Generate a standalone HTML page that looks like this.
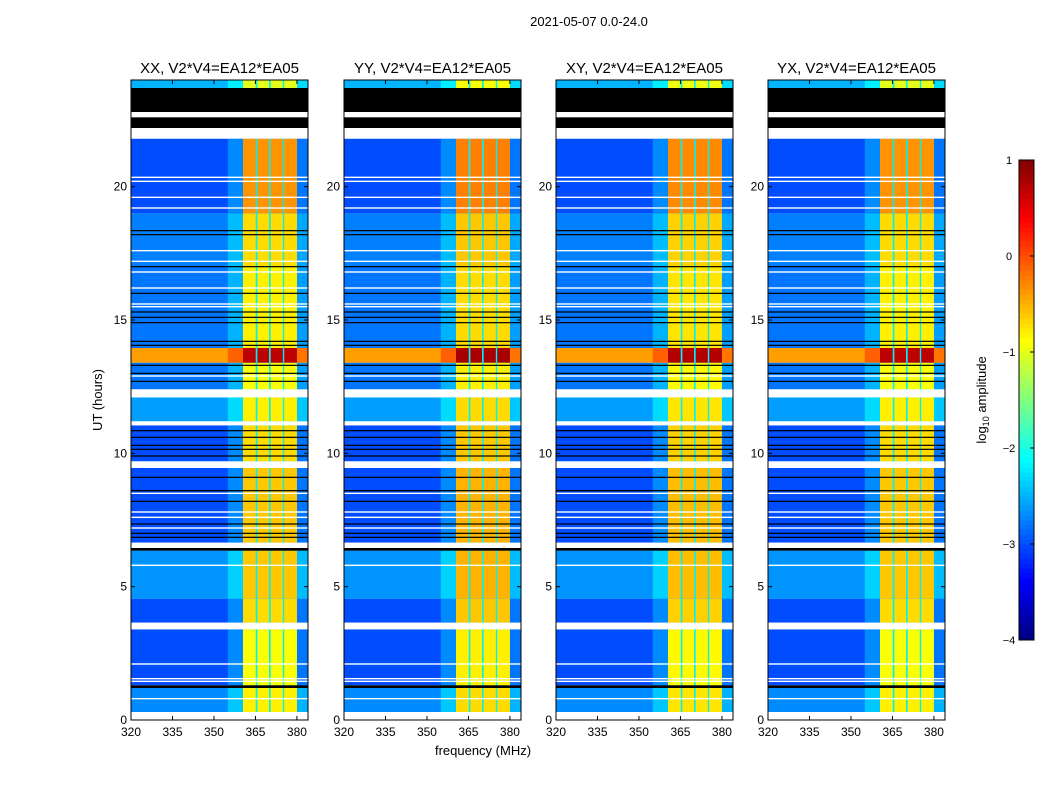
<!DOCTYPE html>
<html><head><meta charset="utf-8">
<style>
body{margin:0;background:#fff;}
svg text{font-family:"Liberation Sans",sans-serif;}
</style></head>
<body>
<svg id="fig" width="1050" height="800" xmlns="http://www.w3.org/2000/svg">
<text x="589" y="26" font-size="13" text-anchor="middle">2021-05-07 0.0-24.0</text>
<text transform="translate(102,400) rotate(-90)" font-size="13" text-anchor="middle">UT (hours)</text>
<text x="483" y="755" font-size="13" text-anchor="middle">frequency (MHz)</text>
<g id="panels"></g>
<g id="cbar"></g>
</svg>
<script>
const panelTitles=["XX, V2*V4=EA12*EA05","YY, V2*V4=EA12*EA05","XY, V2*V4=EA12*EA05","YX, V2*V4=EA12*EA05"];
const panelLeft=[131,344,556,768];
const panelBandOffset=[0,0.1,0.05,0.0];
const xTicks=[320,335,350,365,380];
const yTicks=[0,5,10,15,20];
const cbTicks=[1,0,-1,-2,-3,-4];
// time segments: start hour, end hour, background log amp, band log amp
const segStart=[0.3,1.3,3.65,4.55,6.65,9.7,11.2,12.4,13.4,13.95,17.0,19.0,23.7];
const segEnd  =[1.2,3.4,4.55,6.35,9.45,11.05,12.1,13.4,13.95,17.0,19.0,21.8,24.0];
const segBg   =[-2.7,-3.0,-3.0,-2.65,-3.0,-3.0,-2.6,-2.8,-0.4,-2.8,-2.75,-3.0,-2.5];
const segBand =[-0.8,-0.9,-0.7,-0.6,-0.6,-0.7,-0.8,-0.9,0.7,-0.8,-0.7,-0.35,-1.0];
const whiteStart=[0,3.4,6.45,9.45,11.05,12.1,21.8,22.6];
const whiteEnd  =[0.3,3.65,6.65,9.7,11.2,12.4,22.2,22.8];
const blackStart=[1.2,6.35,22.2,22.8];
const blackEnd  =[1.3,6.45,22.6,23.7];
const thinBlack=[14.05,14.2,14.9,15.1,15.3,13.3,13.0,12.7,18.2,18.35,17.0,16.0,10.3,10.6,10.85,9.1,8.6,8.2,7.35,7.0,6.85,9.9,10.15];
const thinWhite=[20.2,19.6,17.6,17.2,16.2,15.6,15.5,20.35,12.9,7.8,7.6,7.2,5.8,1.55,1.45,0.8,2.1,8.5,19.2,16.8];
const bandLo=[360.5,365.7,370.5,375.4];
const bandHi=[365.1,369.9,374.9,380.0];
const fMin=320,fMax=384,tMin=0,tMax=24;
const pW=177,pTop=80,pBot=720;
function jet(v){let t=(v+4)/5;t=Math.max(0,Math.min(1,t));
 const r=Math.max(0,Math.min(1,1.5-Math.abs(4*t-3))),g=Math.max(0,Math.min(1,1.5-Math.abs(4*t-2))),b=Math.max(0,Math.min(1,1.5-Math.abs(4*t-1)));
 return `rgb(${Math.round(r*255)},${Math.round(g*255)},${Math.round(b*255)})`;}
const NS="http://www.w3.org/2000/svg";
function el(tag,attrs,parent){const e=document.createElementNS(NS,tag);for(const k in attrs)e.setAttribute(k,attrs[k]);parent.appendChild(e);return e;}
function yS(h){return pBot-(h-tMin)/(tMax-tMin)*(pBot-pTop);}
const panels=document.getElementById('panels');
panelTitles.forEach((title,p)=>{
 const L=panelLeft[p];
 const xS=f=>L+(f-fMin)/(fMax-fMin)*pW;
 const g=el('g',{},panels);
 
 
 el('rect',{x:L,y:pTop,width:pW,height:pBot-pTop,fill:'#fff'},g);
 for(let i=0;i<segStart.length;i++){
  const y1=yS(segEnd[i]),y2=yS(segStart[i]);
  const r=el('rect',{x:L,y:y1,width:pW,height:y2-y1,fill:jet(segBg[i])},g);
  
  
  el('rect',{x:xS(355),y:y1,width:xS(360.5)-xS(355),height:y2-y1,fill:jet(segBg[i]+0.3)},g);
  el('rect',{x:xS(380),y:y1,width:xS(384)-xS(380),height:y2-y1,fill:jet(segBg[i]+0.2)},g);
  el('rect',{x:xS(bandLo[0]),y:y1,width:xS(bandHi[3])-xS(bandLo[0]),height:y2-y1,fill:jet(-2.2)},g);
  for(let b=0;b<bandLo.length;b++){
   const c=el('rect',{x:xS(bandLo[b]),y:y1,width:xS(bandHi[b])-xS(bandLo[b]),height:y2-y1,fill:jet(segBand[i]+panelBandOffset[p])},g);
   
   
  }
 }
 thinWhite.forEach(h=>{el('rect',{x:L,y:yS(h)-0.7,width:pW,height:1.4,fill:'#fff'},g);});
 thinBlack.forEach(h=>{el('rect',{x:L,y:yS(h)-0.6,width:pW,height:1.2,fill:'#000'},g);});
 for(let i=0;i<whiteStart.length;i++){const y1=yS(whiteEnd[i]);el('rect',{x:L,y:y1,width:pW,height:yS(whiteStart[i])-y1,fill:'#fff'},g);}
 for(let i=0;i<blackStart.length;i++){const y1=yS(blackEnd[i]);el('rect',{x:L,y:y1,width:pW,height:yS(blackStart[i])-y1,fill:'#000'},g);}
 el('rect',{x:L,y:pTop,width:pW,height:pBot-pTop,fill:'none',stroke:'#000','stroke-width':1},g);
 const t=el('text',{x:L+pW/2,y:73,'font-size':15,'text-anchor':'middle'},g);t.textContent=title;
 
 
 xTicks.forEach(v=>{const x=xS(v);el('line',{x1:x,x2:x,y1:pBot,y2:pBot-4,stroke:'#000'},g);el('line',{x1:x,x2:x,y1:pTop,y2:pTop+4,stroke:'#000'},g);
  const tx=el('text',{x:x,y:pBot+16,'font-size':12,'text-anchor':'middle'},g);tx.textContent=v;
  
  });
 yTicks.forEach(v=>{const y=yS(v);el('line',{x1:L,x2:L+4,y1:y,y2:y,stroke:'#000'},g);el('line',{x1:L+pW,x2:L+pW-4,y1:y,y2:y,stroke:'#000'},g);
  const ty=el('text',{x:L-4,y:y+4,'font-size':12,'text-anchor':'end'},g);ty.textContent=v;
  
  });
});
const cb=document.getElementById('cbar');


const cbX=1019,cbW=15,cbT=160,cbB=640;
const cyS=v=>cbB-(v+4)/5*(cbB-cbT);
for(let i=0;i<100;i++){const v=-4+i*0.05;el('rect',{x:cbX,y:cyS(v+0.05),width:cbW,height:(cbB-cbT)/100+0.5,fill:jet(v+0.025)},cb);}
el('rect',{x:cbX,y:cbT,width:cbW,height:cbB-cbT,fill:'none',stroke:'#000'},cb);
cbTicks.forEach(v=>{const y=cyS(v);el('line',{x1:cbX+cbW-4,x2:cbX+cbW,y1:y,y2:y,stroke:'#000'},cb);
 const t=el('text',{x:1009,y:y+4,'font-size':11,'text-anchor':'middle'},cb);t.textContent=(v<0?'\u2212'+(-v):v);
 
 });
const lab=el('text',{transform:'translate(986,400) rotate(-90)','font-size':13,'text-anchor':'middle'},cb);


lab.innerHTML='log<tspan font-size="9" dy="3">10</tspan><tspan dy="-3"> amplitude</tspan>';
</script>
</body></html>
